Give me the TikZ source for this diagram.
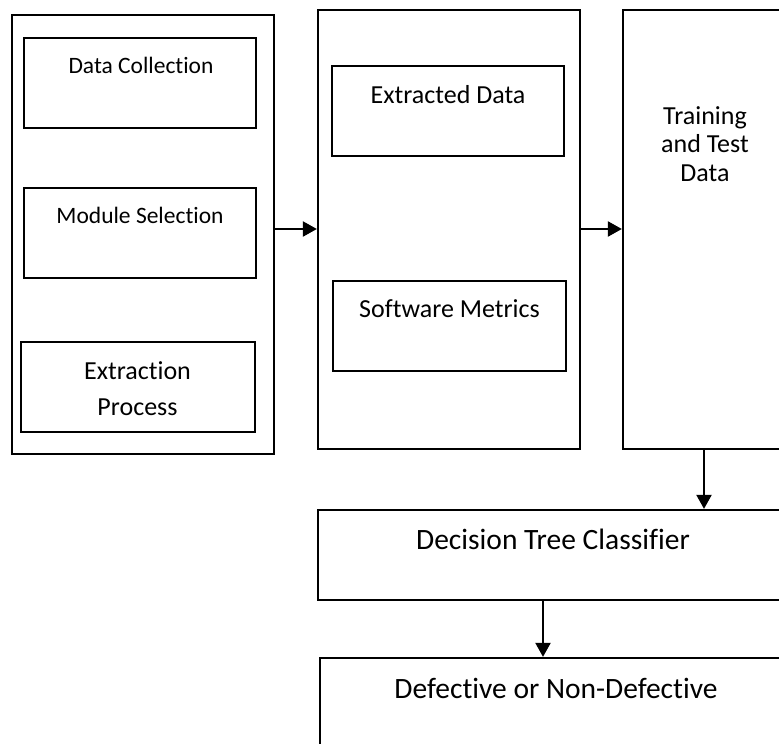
\documentclass[tikz,border=0pt]{standalone}
\usepackage{fontspec}
\setmainfont{Carlito}[Ligatures=NoCommon]
\usetikzlibrary{arrows.meta}
\begin{document}
\begin{tikzpicture}[x=1pt,y=-1pt,
  box/.style={draw, line width=2.3pt, rectangle, inner sep=0pt, minimum width=#1},
  txtS/.style={anchor=base, inner sep=0pt, font=\fontsize{23.5}{28}\selectfont},
  txtM/.style={anchor=base, inner sep=0pt, align=center, font=\fontsize{26}{28.5}\selectfont},
  txtL/.style={anchor=base, inner sep=0pt, font=\fontsize{29.5}{32}\selectfont},
  arr/.style={line width=2.3pt, -{Triangle[length=14pt,width=15pt]}}
]
\useasboundingbox (0,0) rectangle (779,744);
\clip (0,0) rectangle (779,744);
% outer boxes
\node[box=262pt, minimum height=439pt] (left) at (143,234.5) {};
\node[box=262pt, minimum height=439pt] (mid) at (449,229.5) {};
\node[box=277pt, minimum height=439pt] (right) at (761.5,229.5) {};
% inner boxes
\node[box=232pt, minimum height=90pt] (dc) at (140,83) {};
\node[box=232pt, minimum height=90pt] (ms) at (140,233) {};
\node[box=234pt, minimum height=90pt] (ep) at (138,387) {};
\node[box=232pt, minimum height=90pt] (ed) at (448,111) {};
\node[box=233pt, minimum height=90pt] (sm) at (449.5,326) {};
% bottom boxes
\node[box=600pt, minimum height=90pt] (dt) at (618,555) {};
\node[box=600pt, minimum height=90pt] (dn) at (620,703) {};
% texts
\node[txtS] (t1) at (141,73) {Data Collection};
\node[txtS] (t2) at (140,223) {Module Selection};
\node[txtM] (t3) at (137.5,415) {Extraction\\[7pt]Process};
\node[txtM] (t4) at (448,103) {Extracted Data};
\node[txtM] (t5) at (449.5,317) {Software Metrics};
\node[txtM] (t6) at (705,181) {Training\\and Test\\Data};
\node[txtL] (t7) at (553,549) {Decision Tree Classifier};
\node[txtL] (t8) at (556,698) {Defective or Non-Defective};
% connectors
\coordinate (ya) at (0,229);
\coordinate (xb) at (704,0);
\coordinate (xc) at (543,0);
\draw[arr] (left.east |- ya) -- (mid.west |- ya);
\draw[arr] (mid.east |- ya) -- (right.west |- ya);
\draw[arr] (right.south -| xb) -- (dt.north -| xb);
\draw[arr] (dt.south -| xc) -- (dn.north -| xc);
\end{tikzpicture}
\end{document}
